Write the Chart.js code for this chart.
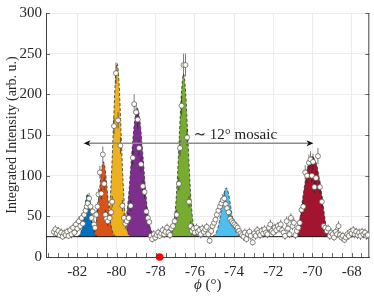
<!DOCTYPE html>
<html><head><meta charset="utf-8">
<script src="https://cdn.jsdelivr.net/npm/chart.js@4"></script>
<style>html,body{margin:0;padding:0;background:#fff}</style>
</head><body>
<canvas id="c" width="374" height="298" style="width:374px;height:298px;display:block"></canvas>
<script>
// ---------- data ----------
const phi = [
-83.2,-83.12,-83.05,-82.97,-82.9,-82.82,-82.75,-82.67,-82.6,-82.52,-82.45,-82.37,-82.3,-82.22,-82.15,-82.07,-82.0,-81.92,-81.85,-81.78,-81.72,
-81.65,-81.58,-81.52,-81.47,-81.4,-81.33,-81.28,-81.22,-81.15,-81.1,
-81.03,-80.97,-80.92,-80.85,-80.78,-80.7,-80.63,-80.57,-80.52,-80.45,
-80.35,-80.28,-80.22,-80.13,-80.03,-79.92,-79.8,-79.7,-79.62,-79.55,
-79.48,-79.38,-79.28,-79.17,-79.1,-79.0,-78.92,-78.85,-78.75,-78.66,-78.57,-78.48,-78.4,-78.33,
-78.25,-78.18,-78.1,-78.02,-77.95,-77.87,-77.8,-77.72,-77.65,-77.57,-77.5,-77.42,-77.35,-77.27,-77.2,-77.12,-77.03,
-76.93,-76.82,-76.76,-76.68,-76.58,-76.48,-76.4,-76.3,-76.22,-76.15,-76.07,-76.0,-75.92,-75.85,-75.77,-75.7,-75.62,-75.55,-75.47,-75.4,-75.32,-75.25,-75.17,-75.1,-75.02,-74.95,-74.88,
-74.8,-74.72,-74.65,-74.58,-74.5,-74.43,-74.36,-74.28,-74.2,-74.12,-74.05,-73.98,-73.9,-73.82,-73.75,-73.67,-73.6,-73.52,-73.45,-73.37,-73.3,-73.22,-73.15,-73.05,-72.97,-72.9,-72.82,-72.75,-72.67,-72.6,-72.52,-72.45,-72.37,-72.3,-72.22,-72.15,-72.07,-72.0,-71.92,-71.85,-71.77,-71.7,-71.62,-71.55,-71.47,-71.4,-71.32,-71.25,-71.17,-71.1,-71.02,-70.95,-70.87,-70.8,-70.72,
-70.65,-70.56,-70.47,-70.37,-70.27,-70.18,-70.1,-70.03,-69.97,-69.9,-69.82,-69.72,-69.62,-69.52,-69.43,-69.35,-69.27,-69.2,-69.12,-69.05,-68.97,-68.9,-68.82,-68.75,-68.67,-68.6,-68.52,-68.45,-68.37,-68.3,-68.22,-68.15,-68.07,-68.0,-67.92,-67.85,-67.77,-67.7,-67.62,-67.55,-67.47,-67.4,-67.32,-67.25,-67.18
];
const intensity = [
31,34,29,32,27,30,25,29,27,31,26,33,28,36,30,40,35,44,38,48,41,
52,57,62,66,72,62,48,56,40,36,
52,62,77,104,78,126,90,52,47,44,
48,55,68,161,226,168,137,63,48,41,
44,48,63,122,188,178,169,134,114,87,80,56,48,43,
26,22,28,24,27,30,26,29,33,28,31,36,30,27,35,38,44,
52,90,134,186,236,236,147,68,38,32,35,30,36,31,33,28,35,31,34,37,28,20,32,38,42,46,52,
57,62,66,70,72,65,60,55,47,44,42,40,38,36,32,29,27,25,30,22,28,31,26,18,29,26,33,30,27,32,29,34,30,28,36,40,32,30,36,33,38,35,40,33,30,26,44,35,28,48,38,42,27,32,36,
42,58,62,104,100,116,120,100,117,86,97,124,86,68,38,36,32,35,26,30,28,24,31,28,38,27,24,26,21,24,28,26,31,29,33,28,31,27,30,26,31,28,30,26,27
];
const errors = [
5,5,5,5,4,5,4,5,4,5,4,5,5,5,5,5,5,6,5,6,5,
6,6,7,7,7,7,6,6,6,5,
6,6,7,8,7,10,8,6,6,6,
6,6,7,10,13,10,10,7,6,6,
6,6,7,9,12,11,11,10,9,8,8,7,6,6,
5,4,5,4,5,5,4,5,5,5,5,5,5,5,5,5,6,
6,8,10,12,14,14,10,7,6,5,5,5,5,5,5,5,5,5,5,5,5,4,5,5,6,6,6,
6,7,7,7,7,7,7,6,6,6,6,6,5,5,5,5,5,5,5,4,5,5,5,4,5,5,5,5,5,5,5,5,5,5,5,6,5,5,5,5,5,5,6,5,5,5,6,5,5,6,5,6,5,5,5,
6,7,7,9,9,10,10,9,10,8,9,10,8,7,6,5,5,5,5,5,5,4,5,5,6,5,4,5,4,5,5,5,5,5,5,5,5,5,5,5,5,5,5,5,5
];
const peakBlue   = [[-81.98,25.4],[-81.88,27.3],[-81.8,32],[-81.72,41.9],[-81.64,56.6],[-81.56,71],[-81.48,77],[-81.4,71],[-81.32,56.6],[-81.24,41.9],[-81.16,32],[-81.08,27.3],[-80.98,25.4]];
const peakOrange = [[-81.29,25.7],[-81.17,29],[-81.07,37.4],[-80.97,54.9],[-80.87,80.8],[-80.77,106],[-80.67,117],[-80.57,106],[-80.47,80.8],[-80.37,54.9],[-80.27,37.4],[-80.17,29],[-80.05,25.7]];
const peakYellow = [[-80.69,25.3],[-80.59,26.7],[-80.47,34],[-80.37,54],[-80.27,94],[-80.17,154],[-80.07,213],[-79.97,238],[-79.87,213],[-79.77,154],[-79.67,94],[-79.57,54],[-79.47,34],[-79.35,26.7],[-79.25,25.3]];
const peakPurple = [[-79.9,25.3],[-79.79,27],[-79.66,33],[-79.54,42],[-79.39,74],[-79.24,121],[-79.09,164],[-78.94,183],[-78.79,164],[-78.64,121],[-78.49,74],[-78.34,42],[-78.22,33],[-78.09,27],[-77.98,25.3]];
const peakGreen  = [[-77.38,25.3],[-77.26,26.7],[-77.13,33.8],[-77.02,52],[-76.91,90],[-76.8,146],[-76.69,201],[-76.58,225],[-76.47,201],[-76.36,146],[-76.25,90],[-76.14,52],[-76.03,33.8],[-75.9,26.7],[-75.78,25.3]];
const peakCyan   = [[-75.1,25.6],[-74.975,27.6],[-74.86,33.1],[-74.745,44.5],[-74.63,61.4],[-74.515,77.9],[-74.4,85],[-74.285,77.9],[-74.17,61.4],[-74.055,44.5],[-73.94,33.1],[-73.825,27.6],[-73.7,25.6]];
const peakRed    = [[-70.92,25.3],[-70.82,27],[-70.72,34],[-70.62,50],[-70.5,72],[-70.35,96],[-70.22,113],[-70.13,118.5],[-70.0,124],[-69.87,118.5],[-69.78,113],[-69.65,96],[-69.5,72],[-69.38,50],[-69.28,34],[-69.18,27],[-69.08,25.3]];
const peaks = [peakBlue, peakOrange, peakYellow, peakPurple, peakGreen, peakCyan, peakRed];
const peakColors = ['#0072BD','#D95319','#EDB120','#7E2F8E','#77AC30','#4DBEEE','#A2142F'];
const baselineLevel = 25;
const xMin = -83.6, xMax = -67.1;
const xTicks = [-82,-80,-78,-76,-74,-72,-70,-68];
const yTicks = [0,50,100,150,200,250,300];
const marker = {phi: -77.8, intensity: 0};
const arrow = {from: -81.68, to: -69.95, y: 140};
const note = {text: '\u223C 12\u00B0 mosaic', phi: -76.07, y: 150};
const xTitle = {symbol: '\u03D5', rest: ' (\u00B0)'};

const SERIF = "'Liberation Serif','DejaVu Serif',serif";
const AX = '#404040';

const datasets = [];
datasets.push({
  type:'scatter', label:'data', order:0,
  data: phi.map((x,i)=>({x, y: intensity[i]})),
  pointRadius:2.5, pointBackgroundColor:'#fdfbf3', pointBorderColor:'#555', pointBorderWidth:0.7,
  showLine:false
});
datasets.push({
  type:'scatter', label:'marker', order:0, clip:false,
  data:[{x:marker.phi, y:marker.intensity}],
  pointRadius:3.8, pointBackgroundColor:'#ff0000', pointBorderColor:'#ff0000', pointBorderWidth:0
});
datasets.push({
  type:'line', label:'baseline', order:1,
  data:[{x:xMin,y:baselineLevel},{x:xMax,y:baselineLevel}],
  borderColor:'#111', borderWidth:1, pointRadius:0, fill:false
});
peaks.forEach((p,i)=>{
  datasets.push({
    type:'line', label:'peak'+i, order:2+i,
    data:p.map(([x,y])=>({x,y})),
    borderColor:'#333', borderWidth:0.8, borderDash:[3,2],
    backgroundColor:peakColors[i], fill:{value:baselineLevel},
    pointRadius:0, cubicInterpolationMode:'monotone'
  });
});

const errorBars = {
  id:'errorBars',
  beforeDatasetDraw(chart, args){
    if(args.index!==0) return;
    const {ctx, scales:{x,y}, chartArea:a} = chart;
    ctx.save();
    ctx.beginPath(); ctx.rect(a.left,a.top,a.right-a.left,a.bottom-a.top); ctx.clip();
    ctx.strokeStyle='#222'; ctx.lineWidth=0.6;
    ctx.beginPath();
    phi.forEach((p,i)=>{
      const px=x.getPixelForValue(p);
      ctx.moveTo(px, y.getPixelForValue(intensity[i]-errors[i]));
      ctx.lineTo(px, y.getPixelForValue(intensity[i]+errors[i]));
    });
    ctx.stroke();
    ctx.restore();
  }
};

const decorations = {
  id:'decorations',
  beforeDatasetsDraw(chart){
    const {ctx, chartArea:a} = chart;
    ctx.save();
    ctx.strokeStyle=AX; ctx.lineWidth=1;
    ctx.beginPath(); ctx.moveTo(a.right-0.5,a.top); ctx.lineTo(a.right-0.5,a.bottom); ctx.stroke();
    ctx.restore();
  },
  afterDatasetsDraw(chart){
    const {ctx, scales:{x,y}, chartArea:a} = chart;
    ctx.save();
    // inward ticks
    ctx.strokeStyle=AX; ctx.lineWidth=0.8;
    ctx.beginPath();
    for(let v=Math.ceil(xMin*2)/2; v<=xMax; v+=0.5){
      const px=Math.round(x.getPixelForValue(v))+0.5;
      ctx.moveTo(px,a.bottom); ctx.lineTo(px,a.bottom-4);
    }
    yTicks.forEach(v=>{
      const py=Math.round(y.getPixelForValue(v))+0.5;
      ctx.moveTo(a.left,py); ctx.lineTo(a.left+4,py);
      ctx.moveTo(a.right,py); ctx.lineTo(a.right-4,py);
    });
    ctx.stroke();
    // arrow
    const x1=x.getPixelForValue(arrow.from), x2=x.getPixelForValue(arrow.to), ay=y.getPixelForValue(arrow.y);
    ctx.strokeStyle='#8c8c8c'; ctx.lineWidth=1.5;
    ctx.beginPath(); ctx.moveTo(x1+5,ay); ctx.lineTo(x2-5,ay); ctx.stroke();
    ctx.fillStyle='#111';
    ctx.beginPath(); ctx.moveTo(x1,ay); ctx.lineTo(x1+7,ay-3); ctx.lineTo(x1+5,ay); ctx.lineTo(x1+7,ay+3); ctx.closePath(); ctx.fill();
    ctx.beginPath(); ctx.moveTo(x2,ay); ctx.lineTo(x2-7,ay-3); ctx.lineTo(x2-5,ay); ctx.lineTo(x2-7,ay+3); ctx.closePath(); ctx.fill();
    // note
    ctx.fillStyle='#222'; ctx.font='15px '+SERIF; ctx.textBaseline='middle'; ctx.textAlign='left';
    ctx.fillText(note.text, x.getPixelForValue(note.phi), y.getPixelForValue(note.y));
    ctx.restore();
  },
  afterDraw(chart){
    const {ctx, chartArea:a} = chart;
    ctx.save();
    ctx.fillStyle='#262626'; ctx.textBaseline='middle'; ctx.textAlign='left';
    ctx.font='italic 15px '+SERIF;
    const w1=ctx.measureText(xTitle.symbol).width;
    ctx.font='15px '+SERIF;
    const w2=ctx.measureText(xTitle.rest).width;
    const cx=(a.left+a.right)/2, y0=285;
    let sx=cx-(w1+w2)/2;
    ctx.font='italic 15px '+SERIF; ctx.fillText(xTitle.symbol, sx, y0);
    ctx.font='15px '+SERIF; ctx.fillText(xTitle.rest, sx+w1, y0);
    ctx.restore();
  }
};

new Chart(document.getElementById('c'), {
  data:{datasets},
  options:{
    responsive:false, animation:false, devicePixelRatio:1,
    layout:{padding:{left:0,right:4.5,top:7.5,bottom:0}},
    plugins:{legend:{display:false}, tooltip:{enabled:false}},
    scales:{
      x:{type:'linear', min:xMin, max:xMax,
        afterBuildTicks(s){ s.ticks = xTicks.map(v=>({value:v})); },
        afterFit(s){ s.height=41; },
        grid:{color:'#ececec', drawTicks:false, lineWidth:1},
        border:{display:true, color:AX, width:1},
        ticks:{padding:6, color:'#262626', font:{family:SERIF,size:15}, maxRotation:0, autoSkip:false,
          callback:v=>String(v)},
        title:{display:false}
      },
      y:{type:'linear', min:0, max:300,
        afterBuildTicks(s){ s.ticks = yTicks.map(v=>({value:v})); },
        afterFit(s){ s.width=46; },
        grid:{color:'#ececec', drawTicks:false, lineWidth:1},
        border:{display:true, color:AX, width:1},
        ticks:{padding:4, color:'#262626', font:{family:SERIF,size:15}},
        title:{display:true, text:'Integrated Intensity (arb. u.)', color:'#262626', font:{family:SERIF,size:14}, padding:{top:4,bottom:0}}
      }
    }
  },
  plugins:[errorBars, decorations]
});
</script>
</body></html>
